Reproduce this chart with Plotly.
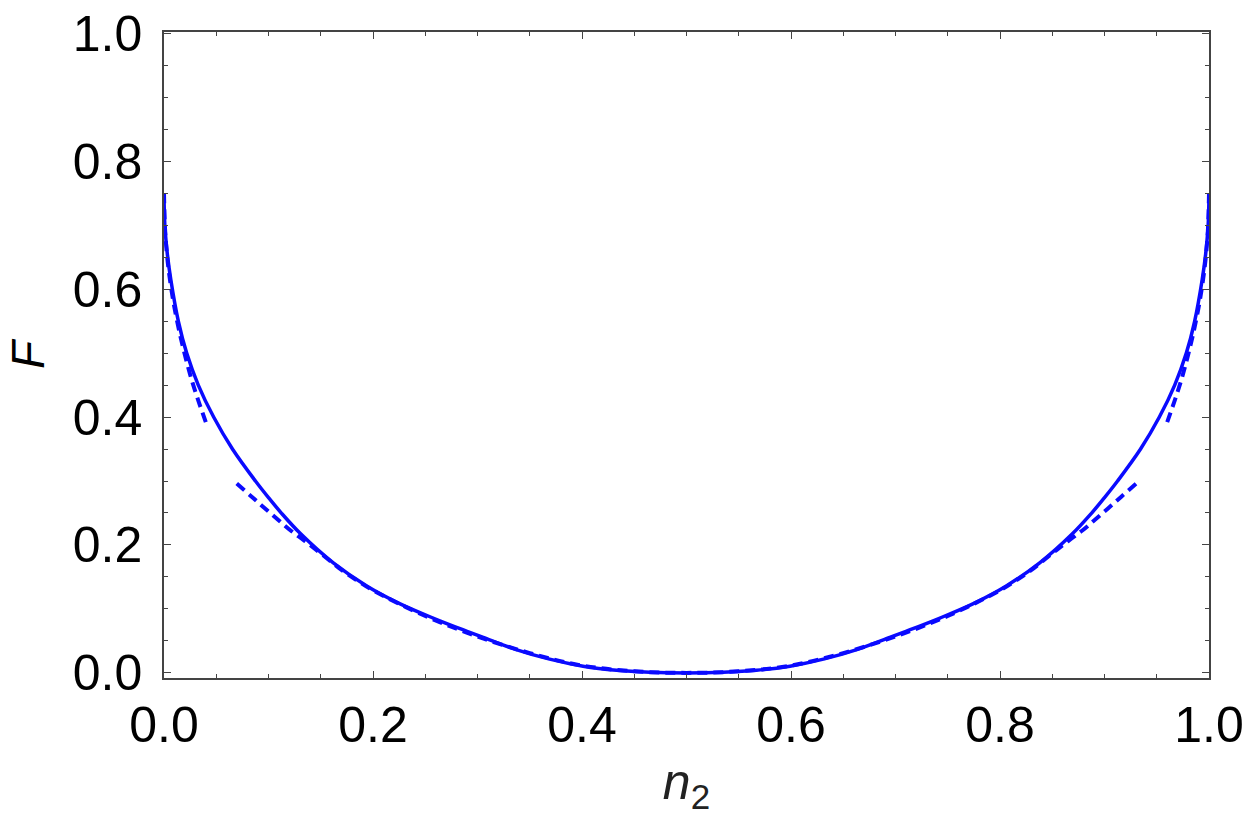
import plotly.graph_objects as go

# Solid curve F(n2)
solid_x = [0.0, 0.0008, 0.0032, 0.0065, 0.0137, 0.0217, 0.0328, 0.0475, 0.0655, 0.0875, 0.100,
           0.1125, 0.131, 0.162, 0.194, 0.226, 0.258, 0.290, 0.3055, 0.337, 0.369, 0.401, 0.433, 0.465, 0.5,
           0.535, 0.567, 0.599, 0.631, 0.663, 0.6945, 0.710, 0.742, 0.774, 0.806, 0.838, 0.869,
           0.8875, 0.900, 0.9125, 0.9345, 0.9525, 0.9672, 0.9783, 0.9863, 0.9935, 0.9968, 0.9992, 1.0]
solid_y = [0.75, 0.70, 0.655, 0.615, 0.550, 0.500, 0.450, 0.400, 0.350, 0.300, 0.274,
           0.2495, 0.217, 0.172, 0.136, 0.108, 0.0854, 0.065, 0.0555, 0.0365, 0.0215, 0.0105, 0.0040, 0.0010, 0.0,
           0.0010, 0.0040, 0.0105, 0.0215, 0.0365, 0.0555, 0.065, 0.0854, 0.108, 0.136, 0.172, 0.217,
           0.2495, 0.274, 0.300, 0.350, 0.400, 0.450, 0.500, 0.550, 0.615, 0.655, 0.70, 0.75]

# Dashed approximation near the edges (left and right)
edge_left_x = [0.0, 0.001, 0.003, 0.006, 0.010, 0.0153, 0.0205, 0.0265, 0.033, 0.041]
edge_left_y = [0.75, 0.694, 0.651, 0.611, 0.571, 0.529, 0.494, 0.458, 0.425, 0.3875]
edge_right_x = [1.0, 0.999, 0.997, 0.994, 0.990, 0.9847, 0.9795, 0.9735, 0.967, 0.959]
edge_right_y = [0.75, 0.694, 0.651, 0.611, 0.571, 0.529, 0.494, 0.458, 0.425, 0.3875]

# Dashed approximation around the middle
mid_x = [0.0696, 0.0839, 0.0967, 0.1094, 0.1206, 0.1333, 0.146, 0.159, 0.1715, 0.1843, 0.2,
         0.25, 0.3, 0.35, 0.4, 0.45, 0.5, 0.55, 0.6, 0.65, 0.7, 0.75, 0.8,
         0.8157, 0.8285, 0.841, 0.854, 0.8667, 0.8794, 0.8906, 0.9033, 0.9161, 0.9304]
mid_y = [0.296, 0.2755, 0.257, 0.239, 0.2234, 0.208, 0.192, 0.175, 0.159, 0.145, 0.129,
         0.089, 0.057, 0.031, 0.0115, 0.0025, 0.0, 0.0025, 0.0115, 0.031, 0.057, 0.089, 0.129,
         0.145, 0.159, 0.175, 0.192, 0.208, 0.2234, 0.239, 0.257, 0.2755, 0.296]

x_ticks = [0.0, 0.2, 0.4, 0.6, 0.8, 1.0]
x_ticklabels = ["0.0", "0.2", "0.4", "0.6", "0.8", "1.0"]
y_ticks = [0.0, 0.2, 0.4, 0.6, 0.8, 1.0]
y_ticklabels = ["0.0", "0.2", "0.4", "0.6", "0.8", "1.0"]

BLUE = "#0a0aff"
dash = "10px,6px"
FONT = "Liberation Sans, Arial, sans-serif"

fig = go.Figure()
for ex, ey in [(edge_left_x, edge_left_y), (edge_right_x, edge_right_y), (mid_x, mid_y)]:
    fig.add_trace(go.Scatter(x=ex, y=ey, mode="lines",
                             line=dict(color=BLUE, width=4, dash=dash, shape="spline", smoothing=1.0),
                             showlegend=False))
fig.add_trace(go.Scatter(x=solid_x, y=solid_y, mode="lines",
                         line=dict(color=BLUE, width=3.5, shape="spline", smoothing=1.0), showlegend=False))

axis_common = dict(
    showgrid=False, zeroline=False, showline=True, linecolor="#444444", linewidth=1.5,
    mirror="allticks", ticks="inside", ticklen=7, tickwidth=1.2, tickcolor="#444444",
    tickfont=dict(family=FONT, size=50, color="black"),
    minor=dict(dtick=0.05, ticks="inside", ticklen=4, tickwidth=1, tickcolor="#444444"),
    automargin=False,
)

fig.update_layout(
    width=1250, height=828,
    margin=dict(l=164, r=41, t=32, b=150),
    paper_bgcolor="white", plot_bgcolor="white",
    xaxis=dict(range=[0, 1], tickvals=x_ticks, ticktext=x_ticklabels,
               title=dict(text="<i>n</i><sub>2</sub>", standoff=12,
                          font=dict(family=FONT, size=50, color="#222222")),
               ticklabelstandoff=2, **axis_common),
    yaxis=dict(range=[-0.008, 1.002], tickvals=y_ticks, ticktext=y_ticklabels,
               title=dict(text="<i>F</i>", standoff=14,
                          font=dict(family=FONT, size=46, color="black")),
               ticklabelstandoff=10, **axis_common),
)

fig.write_html("out.html")
